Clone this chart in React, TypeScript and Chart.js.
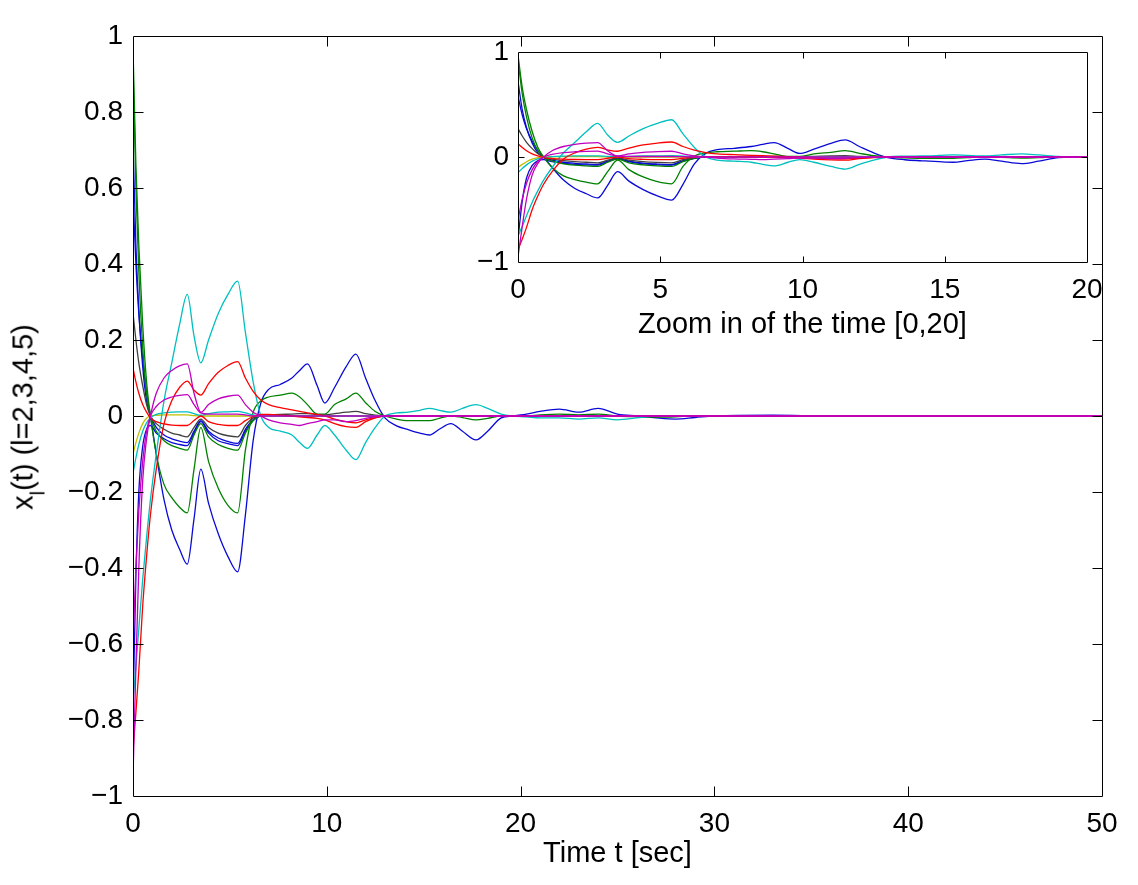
import React, { useEffect, useRef } from 'react';
import { Chart, registerables } from 'chart.js';

Chart.register(...registerables);

const FONT_FAMILY = '"Liberation Sans", Arial, Helvetica, sans-serif';

// ---- time samples (sec) ----
const T = [
  0, 0.15, 0.3, 0.5, 0.7, 0.9,
  1.2, 1.6, 2.0, 2.4, 2.8,
  3.15, 3.5, 3.9, 4.4, 4.9, 5.4,
  5.8, 6.2, 6.6, 7.0,
  7.6, 8.2, 8.6, 9.0, 9.5, 9.9,
  10.4, 11.0, 11.5, 12.0, 12.5, 13.0,
  13.6, 14.2, 14.8, 15.3, 15.8, 16.4, 17.0, 17.7, 18.3, 19.0, 19.6,
  20.3, 21, 22, 23, 24, 25, 26, 27, 28, 29, 30,
  33, 36, 40, 45, 50,
];

// ---- series values (one per trajectory) ----
const greenBig = [
  0.97, 0.66, 0.45, 0.24, 0.09, 0.0,
  -0.1, -0.18, -0.215, -0.24, -0.255,
  -0.14, -0.03, -0.12, -0.19, -0.235, -0.255,
  -0.09, 0.01, 0.04, 0.05,
  0.055, 0.06, 0.05, 0.03, 0.005, 0.005,
  0.03, 0.045, 0.06, 0.035, 0.012, 0.0,
  -0.008, -0.012, -0.012, -0.012, -0.006, 0.0, -0.004, -0.01, -0.006, 0.0, 0.0,
  0.0, 0.003, 0.005, 0.003, 0.005, 0.0, -0.002, -0.003, -0.002, 0.0, 0.0,
  0, 0, 0, 0, 0,
];

const deepBlue = [
  0.58, 0.4, 0.27, 0.15, 0.06, 0.0,
  -0.1, -0.22, -0.3, -0.35, -0.39,
  -0.27, -0.14, -0.23, -0.31, -0.37, -0.41,
  -0.26, -0.065, 0.035, 0.07,
  0.083, 0.1, 0.12, 0.137, 0.08, 0.034,
  0.075, 0.13, 0.163, 0.1, 0.04, -0.005,
  -0.026, -0.036, -0.045, -0.05, -0.035, -0.02, -0.04, -0.063, -0.04, -0.005, 0.0,
  0.005, 0.012, 0.018, 0.01, 0.02, 0.005, 0.0, -0.005, -0.008, -0.004, 0.0,
  0.002, 0, 0, 0, 0,
];

const blueA = [
  0.72, 0.45, 0.28, 0.13, 0.04, 0.0,
  -0.03, -0.05, -0.06, -0.066, -0.07,
  -0.04, -0.012, -0.04, -0.058, -0.067, -0.072,
  -0.035, -0.01, 0.0, 0.0,
  0, 0, 0, 0, 0, 0,
  0, 0, 0, 0, 0, 0,
  0, 0, 0, 0, 0, 0, 0, 0, 0, 0, 0,
  0, 0, 0, 0, 0, 0, 0, 0, 0, 0, 0,
  0, 0, 0, 0, 0,
];

const blueB = [
  -0.78, -0.42, -0.2, -0.08, -0.035, -0.025,
  -0.045, -0.06, -0.07, -0.075, -0.078,
  -0.045, -0.015, -0.045, -0.065, -0.073, -0.078,
  -0.04, -0.012, 0.0, 0.0,
  0, 0, 0, 0, 0, 0,
  0, 0, 0, 0, 0, 0,
  0, 0, 0, 0, 0, 0, 0, 0, 0, 0, 0,
  0, 0, 0, 0, 0, 0, 0, 0, 0, 0, 0,
  0, 0, 0, 0, 0,
];

const greenB = [
  0.93, 0.6, 0.38, 0.18, 0.06, 0.0,
  -0.04, -0.065, -0.078, -0.085, -0.09,
  -0.05, -0.02, -0.055, -0.075, -0.085, -0.09,
  -0.045, -0.012, 0.0, 0.0,
  0, 0, 0, 0, 0, 0,
  0, 0, 0, 0, 0, 0,
  0, 0, 0, 0, 0, 0, 0, 0, 0, 0, 0,
  0, 0, 0, 0, 0, 0, 0, 0, 0, 0, 0,
  0, 0, 0, 0, 0,
];

const darkGray = [
  0.27, 0.2, 0.14, 0.08, 0.03, 0.0,
  -0.02, -0.035, -0.045, -0.05, -0.055,
  -0.03, -0.008, -0.03, -0.045, -0.052, -0.055,
  -0.025, -0.005, 0.0, 0.002,
  0.004, 0.005, 0.006, 0.006, 0.004, 0.003,
  0.006, 0.01, 0.012, 0.006, 0.002, 0.0,
  0, 0, 0, 0, 0, 0, 0, 0, 0, 0, 0,
  0, 0, 0, 0, 0, 0, 0, 0, 0, 0, 0,
  0, 0, 0, 0, 0,
];

const redSmall = [
  0.126, 0.09, 0.06, 0.03, 0.01, -0.005,
  -0.015, -0.021, -0.024, -0.025, -0.025,
  -0.012, 0.0, -0.015, -0.022, -0.025, -0.025,
  -0.012, -0.002, 0.004, 0.004,
  0.002, 0.0, -0.002, -0.004, -0.006, -0.01,
  -0.02, -0.028, -0.03, -0.015, -0.005, 0.0,
  0, 0, 0, 0, 0, 0, 0, 0, 0, 0, 0,
  0, 0, 0, 0, 0, 0, 0, 0, 0, 0, 0,
  0, 0, 0, 0, 0,
];

const redBig = [
  -0.88, -0.78, -0.67, -0.5, -0.37, -0.26,
  -0.14, -0.02, 0.04, 0.075, 0.092,
  0.068, 0.055, 0.085, 0.115, 0.133, 0.143,
  0.1, 0.065, 0.042, 0.03,
  0.022, 0.016, 0.012, 0.008, 0.004, 0.0,
  -0.008, -0.015, -0.018, -0.01, -0.004, 0.0,
  0, 0, 0, 0, 0, 0, 0, 0, 0, 0, 0,
  0, 0, 0, 0, 0, 0, 0, 0, 0, 0, 0,
  0, 0, 0, 0, 0,
];

const magentaA = [
  -0.95, -0.66, -0.4, -0.17, -0.06, 0.0,
  0.06, 0.1, 0.12, 0.132, 0.137,
  0.06, 0.01, 0.03, 0.045, 0.052, 0.055,
  0.03, 0.01, 0.0, -0.01,
  -0.018, -0.022, -0.025, -0.02, -0.015, -0.01,
  -0.01, -0.015, -0.012, -0.006, -0.002, 0.0,
  0, 0, 0, 0, 0, 0, 0, 0, 0, 0, 0,
  0, 0, 0, 0, 0, 0, 0, 0, 0, 0, 0,
  0, 0, 0, 0, 0,
];

const magentaB = [
  -0.6, -0.4, -0.25, -0.12, -0.04, 0.0,
  0.025, 0.042, 0.05, 0.054, 0.056,
  0.03, 0.008, 0.005, 0.005, 0.005, 0.005,
  0.003, 0.0, 0.0, 0.0,
  0, 0, 0, 0, 0, 0,
  0, 0, 0, 0, 0, 0,
  0, 0, 0, 0, 0, 0, 0, 0, 0, 0, 0,
  0, 0, 0, 0, 0, 0, 0, 0, 0, 0, 0,
  0, 0, 0, 0, 0,
];

const cyanBig = [
  -0.75, -0.66, -0.56, -0.43, -0.32, -0.22,
  -0.1, 0.04, 0.14, 0.24, 0.32,
  0.21, 0.14, 0.2, 0.27, 0.32, 0.355,
  0.22, 0.09, 0.0, -0.03,
  -0.04, -0.05, -0.07, -0.085, -0.05, -0.025,
  -0.05, -0.09, -0.115, -0.07, -0.03, 0.0,
  0.008, 0.01, 0.015, 0.02, 0.015, 0.01, 0.02, 0.03, 0.02, 0.005, 0.0,
  -0.002, -0.005, -0.005, -0.008, -0.005, -0.01, -0.005, 0.0, 0.0, 0.0, 0.0,
  0, 0, 0, 0, 0,
];

const cyanSmall = [
  -0.15, -0.11, -0.075, -0.04, -0.018, -0.005,
  0.004, 0.008, 0.01, 0.011, 0.011,
  0.006, 0.002, 0.006, 0.01, 0.011, 0.012,
  0.008, 0.003, 0.0, 0.0,
  0, 0, 0, 0, 0, 0,
  0, 0, 0, 0, 0, 0,
  0, 0, 0, 0, 0, 0, 0, 0, 0, 0, 0,
  0, 0, 0, 0, 0, 0, 0, 0, 0, 0, 0,
  0, 0, 0, 0, 0,
];

const yellowSmall = [
  -0.1, -0.07, -0.045, -0.02, -0.006, 0.0,
  0.002, 0.003, 0.003, 0.003, 0.003,
  0.001, 0.0, 0.0, 0.0, 0.0, 0.0,
  0.0, 0.0, 0.0, 0.0,
  0, 0, 0, 0, 0, 0,
  0, 0, 0, 0, 0, 0,
  0, 0, 0, 0, 0, 0, 0, 0, 0, 0, 0,
  0, 0, 0, 0, 0, 0, 0, 0, 0, 0, 0,
  0, 0, 0, 0, 0,
];

// ---- ticks ----
const MAIN_X_TICKS = [0, 10, 20, 30, 40, 50];
const MAIN_X_LABELS = ['0', '10', '20', '30', '40', '50'];
const MAIN_Y_TICKS = [-1, -0.8, -0.6, -0.4, -0.2, 0, 0.2, 0.4, 0.6, 0.8, 1];
const MAIN_Y_LABELS = ['\u22121', '\u22120.8', '\u22120.6', '\u22120.4', '\u22120.2', '0', '0.2', '0.4', '0.6', '0.8', '1'];
const INSET_X_TICKS = [0, 5, 10, 15, 20];
const INSET_X_LABELS = ['0', '5', '10', '15', '20'];
const INSET_Y_TICKS = [-1, 0, 1];
const INSET_Y_LABELS = ['\u22121', '0', '1'];

const BLUE = 'rgb(10,10,215)';
const GREEN = 'rgb(0,128,0)';
const RED = 'rgb(255,0,0)';
const CYAN = 'rgb(0,191,191)';
const MAGENTA = 'rgb(191,0,191)';
const YELLOW = 'rgb(191,191,0)';
const DARK = 'rgb(64,64,64)';

// first entry is drawn on top
const SERIES = [
  { values: magentaA, color: MAGENTA },
  { values: magentaB, color: MAGENTA },
  { values: redSmall, color: RED },
  { values: redBig, color: RED },
  { values: cyanBig, color: CYAN },
  { values: cyanSmall, color: CYAN },
  { values: yellowSmall, color: YELLOW },
  { values: darkGray, color: DARK },
  { values: greenB, color: GREEN },
  { values: greenBig, color: GREEN },
  { values: blueB, color: BLUE },
  { values: blueA, color: BLUE },
  { values: deepBlue, color: BLUE },
];

function boxPlugin(tickLen: number, xTicks: number[], yTicks: number[]) {
  return {
    id: 'matlabBox',
    afterDatasetsDraw(chart: any) {
      const { ctx, chartArea } = chart;
      const { left, top, right, bottom } = chartArea;
      const xs = chart.scales.x;
      const ys = chart.scales.y;
      ctx.save();
      ctx.strokeStyle = '#000';
      ctx.lineWidth = 1;
      ctx.beginPath();
      const l = Math.round(left) + 0.5;
      const r = Math.round(right) + 0.5;
      const t = Math.round(top) + 0.5;
      const b = Math.round(bottom) + 0.5;
      ctx.rect(l, t, r - l, b - t);
      xTicks.forEach((v) => {
        const px = Math.round(xs.getPixelForValue(v)) + 0.5;
        if (px <= l + 1 || px >= r - 1) return;
        ctx.moveTo(px, b);
        ctx.lineTo(px, b - tickLen);
        ctx.moveTo(px, t);
        ctx.lineTo(px, t + tickLen);
      });
      yTicks.forEach((v) => {
        const py = Math.round(ys.getPixelForValue(v)) + 0.5;
        if (py <= t + 1 || py >= b - 1) return;
        ctx.moveTo(l, py);
        ctx.lineTo(l + tickLen, py);
        ctx.moveTo(r, py);
        ctx.lineTo(r - tickLen, py);
      });
      ctx.stroke();
      ctx.restore();
    },
  };
}

interface Cfg {
  xMax: number;
  xTicks: number[];
  xLabels: string[];
  yTicks: number[];
  yLabels: string[];
  yWidth: number;
  xHeight: number;
  padTop: number;
  padRight: number;
  xTitle: string;
  xTickPad: number;
  yTickPad: number;
  titlePadBottom: number;
  tickLen: number;
}

function buildConfig(c: Cfg): any {
  const tickFont = { family: FONT_FAMILY, size: 28 };
  const titleFont = { family: FONT_FAMILY, size: 29 };
  return {
    type: 'line',
    data: {
      datasets: SERIES.map((s) => ({
        data: T.map((t, i) => ({ x: t, y: s.values[i] })),
        borderColor: s.color,
        backgroundColor: s.color,
        borderWidth: 1.3,
        pointRadius: 0,
        fill: false,
        cubicInterpolationMode: 'monotone',
      })),
    },
    options: {
      animation: false,
      responsive: false,
      devicePixelRatio: 1,
      events: [],
      layout: { padding: { top: c.padTop, right: c.padRight, left: 0, bottom: 0 } },
      elements: { line: { borderJoinStyle: 'round', borderCapStyle: 'round' } },
      plugins: { legend: { display: false }, tooltip: { enabled: false } },
      scales: {
        x: {
          type: 'linear',
          min: 0,
          max: c.xMax,
          grid: { display: false, drawTicks: false },
          border: { display: false },
          afterBuildTicks: (s: any) => {
            s.ticks = c.xTicks.map((v) => ({ value: v }));
          },
          afterFit: (s: any) => {
            s.height = c.xHeight;
          },
          ticks: {
            autoSkip: false,
            maxRotation: 0,
            padding: c.xTickPad,
            color: '#000',
            font: tickFont,
            callback: (_v: any, i: number) => c.xLabels[i],
          },
          title: {
            display: true,
            text: c.xTitle,
            color: '#000',
            font: titleFont,
            padding: { top: 0, bottom: c.titlePadBottom },
          },
        },
        y: {
          type: 'linear',
          min: -1,
          max: 1,
          grid: { display: false, drawTicks: false },
          border: { display: false },
          afterBuildTicks: (s: any) => {
            s.ticks = c.yTicks.map((v) => ({ value: v }));
          },
          afterFit: (s: any) => {
            s.width = c.yWidth;
          },
          ticks: {
            autoSkip: false,
            padding: c.yTickPad,
            color: '#000',
            font: tickFont,
            callback: (_v: any, i: number) => c.yLabels[i],
          },
        },
      },
    },
    plugins: [boxPlugin(c.tickLen, c.xTicks, c.yTicks)],
  };
}

export default function App() {
  const mainRef = useRef<HTMLCanvasElement>(null);
  const insetRef = useRef<HTMLCanvasElement>(null);

  useEffect(() => {
    const main = new Chart(
      mainRef.current as HTMLCanvasElement,
      buildConfig({
        xMax: 50,
        xTicks: MAIN_X_TICKS,
        xLabels: MAIN_X_LABELS,
        yTicks: MAIN_Y_TICKS,
        yLabels: MAIN_Y_LABELS,
        yWidth: 125,
        xHeight: 80,
        padTop: 28,
        padRight: 28,
        xTitle: 'Time t [sec]',
        xTickPad: 11,
        yTickPad: 10,
        titlePadBottom: 5,
        tickLen: 10,
      })
    );
    const inset = new Chart(
      insetRef.current as HTMLCanvasElement,
      buildConfig({
        xMax: 20,
        xTicks: INSET_X_TICKS,
        xLabels: INSET_X_LABELS,
        yTicks: INSET_Y_TICKS,
        yLabels: INSET_Y_LABELS,
        yWidth: 68,
        xHeight: 88,
        padTop: 32,
        padRight: 30,
        xTitle: 'Zoom in of the time [0,20]',
        xTickPad: 11,
        yTickPad: 9,
        titlePadBottom: 8,
        tickLen: 6,
      })
    );
    return () => {
      main.destroy();
      inset.destroy();
    };
  }, []);

  return (
    <div style={{ position: 'relative', width: 1122, height: 868, fontFamily: FONT_FAMILY, color: '#000' }}>
      <canvas ref={mainRef} width={1122} height={868} style={{ position: 'absolute', left: 0, top: 0 }} />
      <canvas ref={insetRef} width={667} height={330} style={{ position: 'absolute', left: 442, top: 12 }} />
      <div
        style={{
          position: 'absolute',
          left: 15,
          top: 409,
          transform: 'translate(-50%, -50%) rotate(-90deg)',
          whiteSpace: 'nowrap',
          fontSize: 29,
          lineHeight: '29px',
        }}
      >
        x<span style={{ fontSize: 20, lineHeight: 0, position: 'relative', top: 12 }}>l</span>(t) (l=2,3,4,5)
      </div>
    </div>
  );
}
